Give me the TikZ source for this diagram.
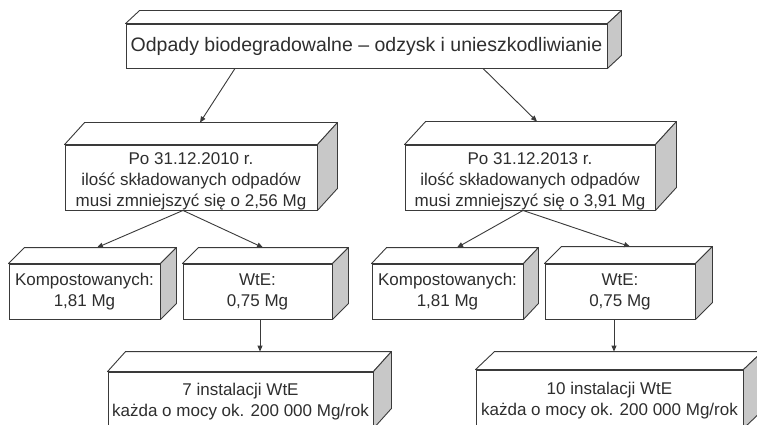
\documentclass[tikz,border=0pt]{standalone}
\usepackage{fontspec}
\setmainfont{Liberation Sans}
\usetikzlibrary{calc,arrows.meta}
\definecolor{edge}{HTML}{3A3A3A}
\definecolor{sidegray}{HTML}{C8C8C8}
\definecolor{ink}{HTML}{2E2E2E}
\tikzset{
 front/.style={draw=edge, line width=0.9pt, fill=white, inner sep=0pt},
 boxtext/.style={inner sep=0pt, align=center, text=ink, font=\fontsize{17}{21}\selectfont},
 facetop/.style={draw=edge, line width=0.9pt, fill=white, line join=round},
 faceside/.style={draw=edge, line width=0.9pt, fill=sidegray, line join=round},
 conn/.style={draw=edge, line width=0.9pt, -{Triangle[length=6pt,width=5pt]}},
}
\def\cubeyshift{0}
\newcommand\cubebox[8]{%
 \node[front, minimum width=#4pt, minimum height=#5pt] (#1) at (#2,#3) {};
 \path[facetop] (#1.north west) -- ++(#6,#7) -- ($(#1.north east)+(#6,#7)$) -- (#1.north east) -- cycle;
 \path[faceside] (#1.north east) -- ++(#6,#7) -- ($(#1.south east)+(#6,#7)$) -- (#1.south east) -- cycle;
 \node[boxtext] (#1-text) at ($(#1.center)+(0,\cubeyshift)$) {#8};
}
\begin{document}
\begin{tikzpicture}[x=1pt,y=-1pt]
\clip (0,0) rectangle (757,425);
\fill[white] (0,0) rectangle (757,425);
\def\cubeyshift{0.5}
\cubebox{T}{366.5}{46}{481}{44}{14}{-13}{\fontsize{19.5}{23}\selectfont Odpady biodegradowalne – odzysk i unieszkodliwianie}
\def\cubeyshift{4}
\cubebox{ML}{191}{177.5}{252}{65}{20}{-22}{Po 31.12.2010 r.\\ ilość składowanych odpadów\\ musi zmniejszyć się o 2,56 Mg}
\cubebox{MR}{530}{177.5}{250}{65}{21}{-23}{Po 31.12.2013 r.\\ ilość składowanych odpadów\\ musi zmniejszyć się o 3,91 Mg}
\def\cubeyshift{0.5}
\cubebox{KL}{84.5}{291.5}{151}{55}{16}{-16}{Kompostowanych:\\ 1,81 Mg}
\cubebox{WL}{257.5}{291.5}{149}{55}{16}{-16}{WtE:\\ 0,75 Mg}
\cubebox{KR}{447.5}{291.5}{151}{55}{15}{-16}{Kompostowanych:\\ 1,81 Mg}
\cubebox{WR}{620}{291.5}{150}{55}{17}{-17}{WtE:\\ 0,75 Mg}
\def\cubeyshift{2}
\cubebox{BL}{240.5}{400}{265}{56}{18}{-20}{7 instalacji WtE\\ każda o mocy ok. 200 000 Mg/rok}
\cubebox{BR}{609.5}{399}{267}{58}{19}{-18}{10 instalacji WtE\\ każda o mocy ok. 200 000 Mg/rok}
\draw[conn] ($(T.south)+(-131.5,0)$) -- ($(ML.north)+(9,-22)$);
\draw[conn] ($(T.south)+(116.5,0)$) -- ($(MR.north)+(7,-23)$);
\draw[conn] ($(ML.south)+(-8,0)$) -- ($(KL.north)+(12.5,-16)$);
\draw[conn] ($(ML.south)+(-8,0)$) -- ($(WL.north)+(5.5,-16)$);
\draw[conn] ($(MR.south)+(-7,0)$) -- ($(KR.north)+(9.5,-16)$);
\draw[conn] ($(MR.south)+(-7,0)$) -- ($(WR.north)+(10,-17)$);
\draw[conn] ($(WL.south)+(2.5,0)$) -- ($(BL.north)+(19.5,-20)$);
\draw[conn] ($(WR.south)+(-6,0)$) -- ($(BR.north)+(4.5,-18)$);
\end{tikzpicture}
\end{document}
